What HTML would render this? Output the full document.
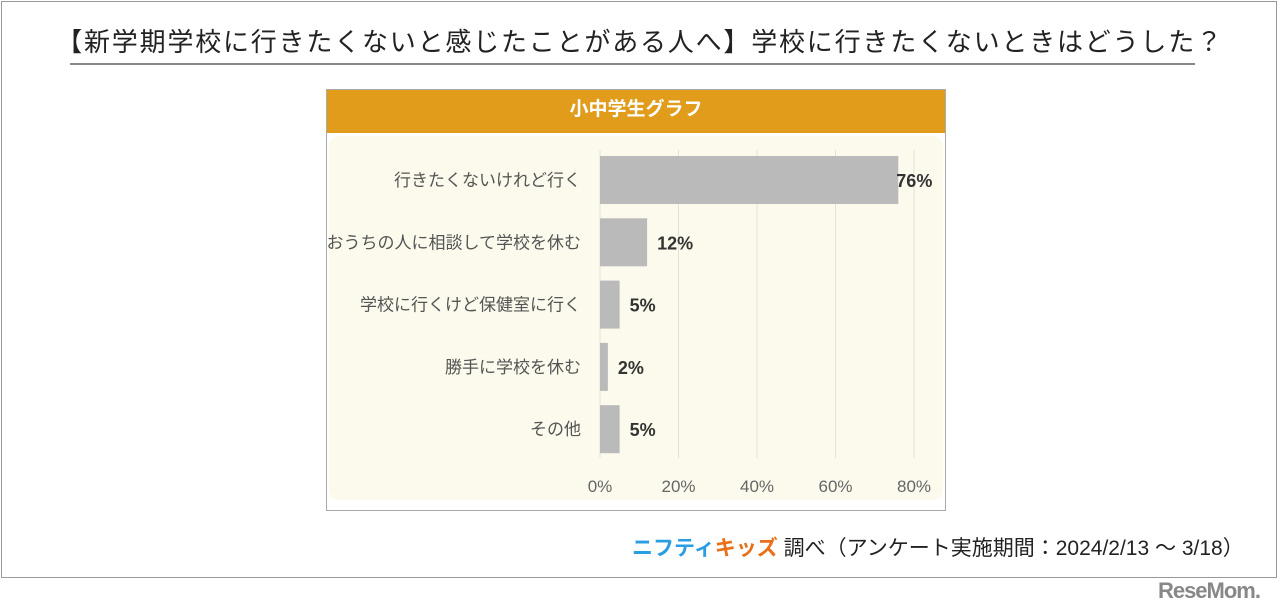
<!DOCTYPE html>
<html><head><meta charset="utf-8">
<style>
body{margin:0;width:1280px;height:616px;background:#fff;font-family:"Liberation Sans","Noto Sans CJK JP",sans-serif;position:relative;overflow:hidden}
.frame{position:absolute;left:1px;top:1px;width:1276px;height:577px;border:1px solid #999;box-sizing:border-box}
.title{position:absolute;left:0;width:1280px;top:22px;text-align:center;font-size:26px;letter-spacing:1.8px;color:#222;white-space:nowrap}
.uline{position:absolute;left:70px;width:1125px;top:63px;height:2px;background:#888}
.panel{position:absolute;left:326px;top:89px;width:620px;height:422px;border:1px solid #aaa;box-sizing:border-box;background:#fff}
.head{position:absolute;left:0;top:0;width:618px;height:43px;background:#E09C1A;color:#fff;font-weight:bold;font-size:19px;text-align:center;line-height:40px}
.cream{position:absolute;left:2px;top:46px;width:614px;height:364px;background:#FBFAEC;border-radius:10px}
.foot{position:absolute;left:632px;top:532px;font-size:21px;color:#222;white-space:nowrap}
.logo{position:absolute;right:20px;top:578px;font-size:22px;font-weight:bold;color:#888;letter-spacing:-1px}
</style></head><body>
<div class="frame"></div>
<div class="title">【新学期学校に行きたくないと感じたことがある人へ】学校に行きたくないときはどうした？</div>
<div class="uline"></div>
<div class="panel">
<div class="head">小中学生グラフ</div>
<div class="cream"></div>
</div>
<svg id="chart" width="1280" height="616" style="position:absolute;left:0;top:0"></svg>
<div class="foot"><span style="color:#2a9ee0;font-weight:bold">ニフティ</span><span style="color:#e8701a;font-weight:bold">キッズ</span> 調べ（アンケート実施期間：2024/2/13 ～ 3/18）</div>
<div class="logo">ReseMom.</div>
<script>
const categories=["行きたくないけれど行く","おうちの人に相談して学校を休む","学校に行くけど保健室に行く","勝手に学校を休む","その他"];
const values=[76,12,5,2,5];
const ticks=[0,20,40,60,80];
const svg=document.getElementById('chart');
const NS='http://www.w3.org/2000/svg';
const x=v=>600+v*3.925;
const rowY=i=>180+i*62.3;
function mk(t,a,txt){const e=document.createElementNS(NS,t);for(const k in a)e.setAttribute(k,a[k]);if(txt!=null)e.textContent=txt;svg.appendChild(e);return e;}
ticks.forEach(t=>{
 const g=mk('line',{x1:x(t),x2:x(t),y1:150,y2:458,stroke:'#e4e2d6','stroke-width':1});
 
 
 const l=mk('text',{x:x(t),y:492,'text-anchor':'middle','font-size':17,fill:'#666'},t+'%');
 
 
});
categories.forEach((c,i)=>{
 const cy=rowY(i);
 const r=mk('rect',{x:x(0),y:cy-24,width:x(values[i])-x(0),height:48,fill:'#BABABA'});
 
 
 const cl=mk('text',{x:581,y:cy+6,'text-anchor':'end','font-size':17,fill:'#555'},c);
 
 
 const vl=mk('text',{x:x(values[i])+(i==0?-2:10),y:cy+7,'font-size':18,'font-weight':'bold',fill:'#333'},values[i]+'%');
 
 
});
</script>
</body></html>
